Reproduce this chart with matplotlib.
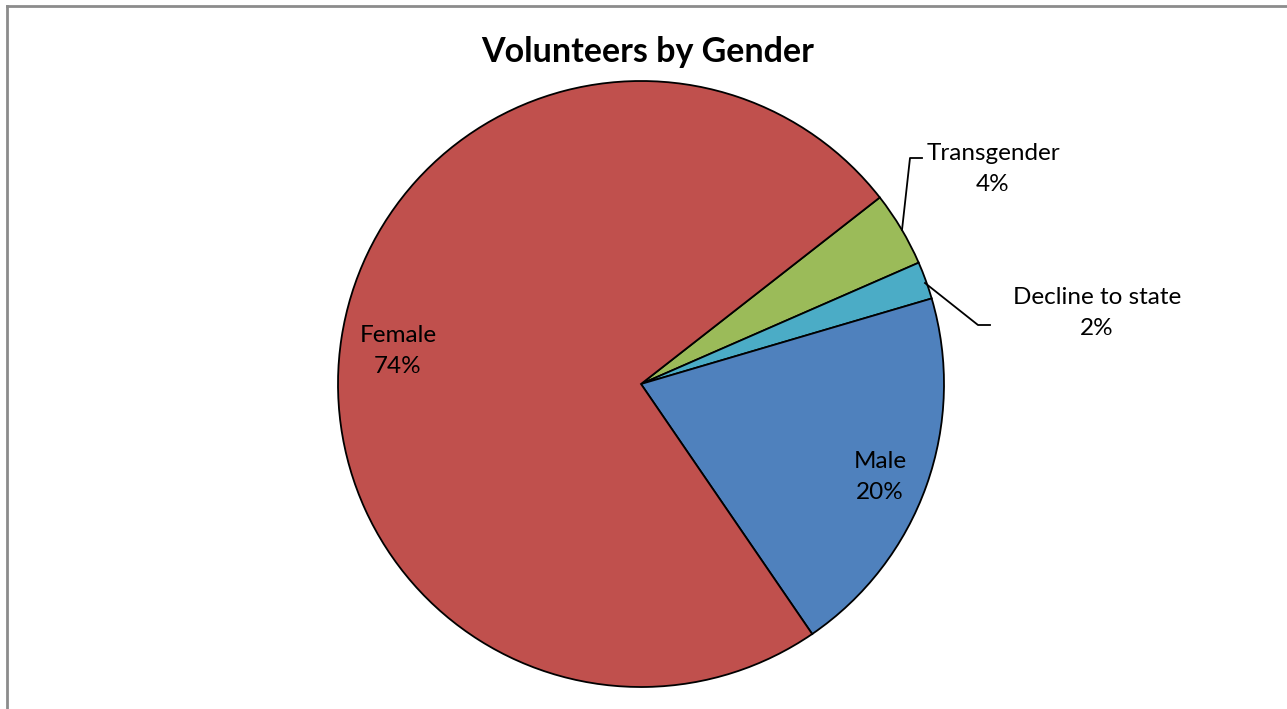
import matplotlib.pyplot as plt
from matplotlib.lines import Line2D

# Data
labels = ['Transgender', 'Decline to state', 'Male', 'Female']
shares = [4, 2, 20, 74]
colors = ['#9BBB59', '#4BACC6', '#4F81BD', '#C0504D']

plt.rcParams['font.family'] = ['Lato', 'DejaVu Sans']

W, H = 1287, 709
fig = plt.figure(figsize=(W / 100, H / 100), dpi=100)

# pie centre / radius in pixels
cx, cy, r = 641, 384, 303
ax = fig.add_axes([(cx - r) / W, (H - cy - r) / H, 2 * r / W, 2 * r / H])
ax.pie(shares, colors=colors, startangle=38, counterclock=False, radius=1,
       wedgeprops=dict(edgecolor='black', linewidth=1.3))
ax.set_xlim(-1, 1)
ax.set_ylim(-1, 1)
ax.set_aspect('equal')
ax.axis('off')


def px(x, y):
    return (x - cx) / r, (cy - y) / r


fs = 17.5
ls = 1.55
total = sum(shares)
pct = {lab: f"{lab}\n{v / total * 100:.0f}%" for lab, v in zip(labels, shares)}

ax.text(*px(398, 351), pct['Female'], ha='center', va='center', fontsize=fs, linespacing=ls)
ax.text(*px(880, 477), pct['Male'], ha='center', va='center', fontsize=fs, linespacing=ls)
ax.text(*px(993, 169), pct['Transgender'], ha='center', va='center', fontsize=fs, linespacing=ls)
ax.text(*px(1097, 313), pct['Decline to state'], ha='center', va='center', fontsize=fs, linespacing=ls)

# leader lines
for pts in [[(902, 230), (910, 158), (922, 158)],
            [(925, 283), (978, 325), (990, 325)]]:
    xs, ys = zip(*[px(x, y) for x, y in pts])
    ax.plot(xs, ys, color='black', linewidth=1.3, clip_on=False)

fig.text(648 / W, 1 - 52 / H, 'Volunteers by Gender', ha='center', va='center',
         fontsize=24.5, fontweight='bold')

# chart area border (left and top only visible)
fig.add_artist(Line2D([7 / W, 7 / W], [-0.01, 1 - 6 / H], transform=fig.transFigure,
                      color='#8c8c8c', linewidth=2))
fig.add_artist(Line2D([7 / W, 1.01], [1 - 6 / H, 1 - 6 / H], transform=fig.transFigure,
                      color='#8c8c8c', linewidth=2))

fig.savefig('out.png', dpi=100)
